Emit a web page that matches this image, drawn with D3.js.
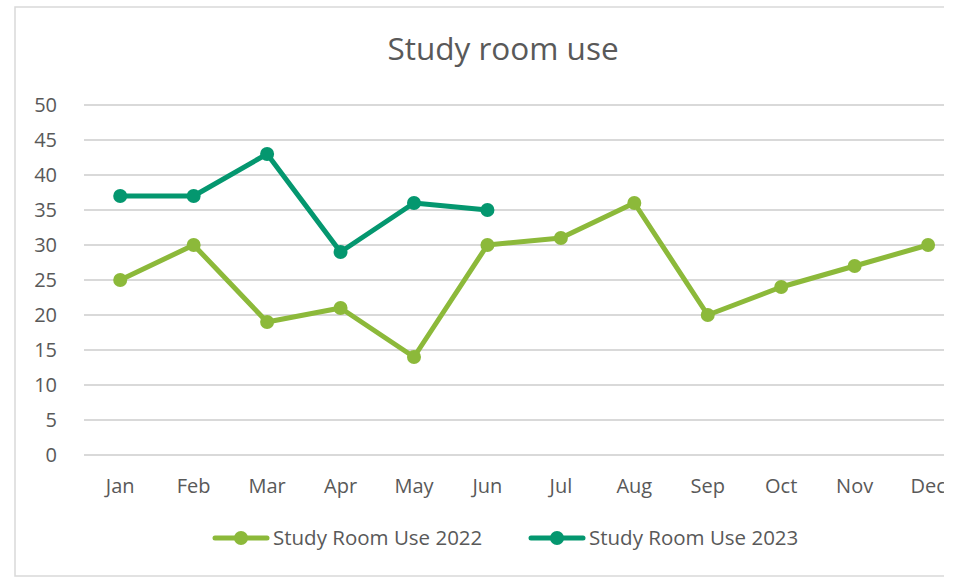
<!DOCTYPE html>
<html>
<head>
<meta charset="utf-8">
<script src="https://cdn.jsdelivr.net/npm/d3@7"></script>
<style>
  body { margin: 0; background: #fff; }
  text { font-family: "Open Sans", "Noto Sans", sans-serif; fill: #595959; }
</style>
</head>
<body>
<div id="chart"></div>
<script>
// data
const months = ["Jan", "Feb", "Mar", "Apr", "May", "Jun", "Jul", "Aug", "Sep", "Oct", "Nov", "Dec"]
const use2022 = [25, 30, 19, 21, 14, 30, 31, 36, 20, 24, 27, 30]
const use2023 = [37, 37, 43, 29, 36, 35]
const yTicks = [0, 5, 10, 15, 20, 25, 30, 35, 40, 45, 50]
const seriesNames = ["Study Room Use 2022", "Study Room Use 2023"]
const seriesColors = ["#8cb93a", "#04976f"]

const W = 964, H = 578
const visibleRight = 944 // the picture is cut off here

const svg = d3.select("#chart").append("svg")
    .attr("width", W)
    .attr("height", H)

svg.append("defs").append("clipPath")
    .attr("id", "cut")
  .append("rect")
    .attr("x", 0).attr("y", 0)
    .attr("width", visibleRight).attr("height", H)

const g = svg.append("g").attr("clip-path", "url(#cut)")

// chart border
g.append("rect")
    .attr("x", 15).attr("y", 7)
    .attr("width", 1000).attr("height", 569)
    .attr("fill", "none")
    .attr("stroke", "#d9d9d9")
    .attr("stroke-width", 1.5)

const x = d3.scaleBand()
    .domain(months)
    .range([83.5, 964.8])

const y = d3.scaleLinear()
    .domain([0, 50])
    .range([455, 105])

// gridlines
g.append("g")
    .selectAll("line")
    .data(yTicks)
    .enter().append("line")
    .attr("x1", 84).attr("x2", 964.8)
    .attr("y1", d => y(d)).attr("y2", d => y(d))
    .attr("stroke", "#d9d9d9")
    .attr("stroke-width", 1.8)

// y labels
g.append("g")
    .selectAll("text")
    .data(yTicks)
    .enter().append("text")
    .attr("x", 57)
    .attr("y", d => y(d))
    .attr("dy", "0.36em")
    .attr("text-anchor", "end")
    .style("font-size", "20px")
    .text(d => d)

// x labels
g.append("g")
    .selectAll("text")
    .data(months)
    .enter().append("text")
    .attr("x", d => x(d) + x.bandwidth() / 2)
    .attr("y", 493)
    .attr("text-anchor", "middle")
    .style("font-size", "20px")
    .text(d => d)

// title
g.append("text")
    .attr("x", 503)
    .attr("y", 60)
    .attr("text-anchor", "middle")
    .style("font-size", "31.5px")
    .text("Study room use")

const line = d3.line()
    .x((d, i) => x(months[i]) + x.bandwidth() / 2)
    .y(d => y(d))

const allSeries = [use2022, use2023]

allSeries.forEach(function (vals, s) {
    g.append("path")
        .datum(vals)
        .attr("d", line)
        .attr("fill", "none")
        .attr("stroke", seriesColors[s])
        .attr("stroke-width", 5)
        .attr("stroke-linejoin", "round")
        .attr("stroke-linecap", "round")

    g.append("g")
        .selectAll("circle")
        .data(vals)
        .enter().append("circle")
        .attr("cx", (d, i) => x(months[i]) + x.bandwidth() / 2)
        .attr("cy", d => y(d))
        .attr("r", 7)
        .attr("fill", seriesColors[s])
})

// legend
const legendX = [213, 529]
const legend = g.selectAll("g.legend")
    .data(seriesNames)
    .enter().append("g")
    .attr("class", "legend")
    .attr("transform", (d, i) => "translate(" + legendX[i] + ",538)")

legend.append("line")
    .attr("x1", 2).attr("x2", 54)
    .attr("stroke", (d, i) => seriesColors[i])
    .attr("stroke-width", 5)
    .attr("stroke-linecap", "round")

legend.append("circle")
    .attr("cx", 28)
    .attr("r", 7)
    .attr("fill", (d, i) => seriesColors[i])

legend.append("text")
    .attr("x", 60)
    .attr("dy", "0.36em")
    .style("font-size", "20.5px")
    .text(d => d)
</script>
</body>
</html>
